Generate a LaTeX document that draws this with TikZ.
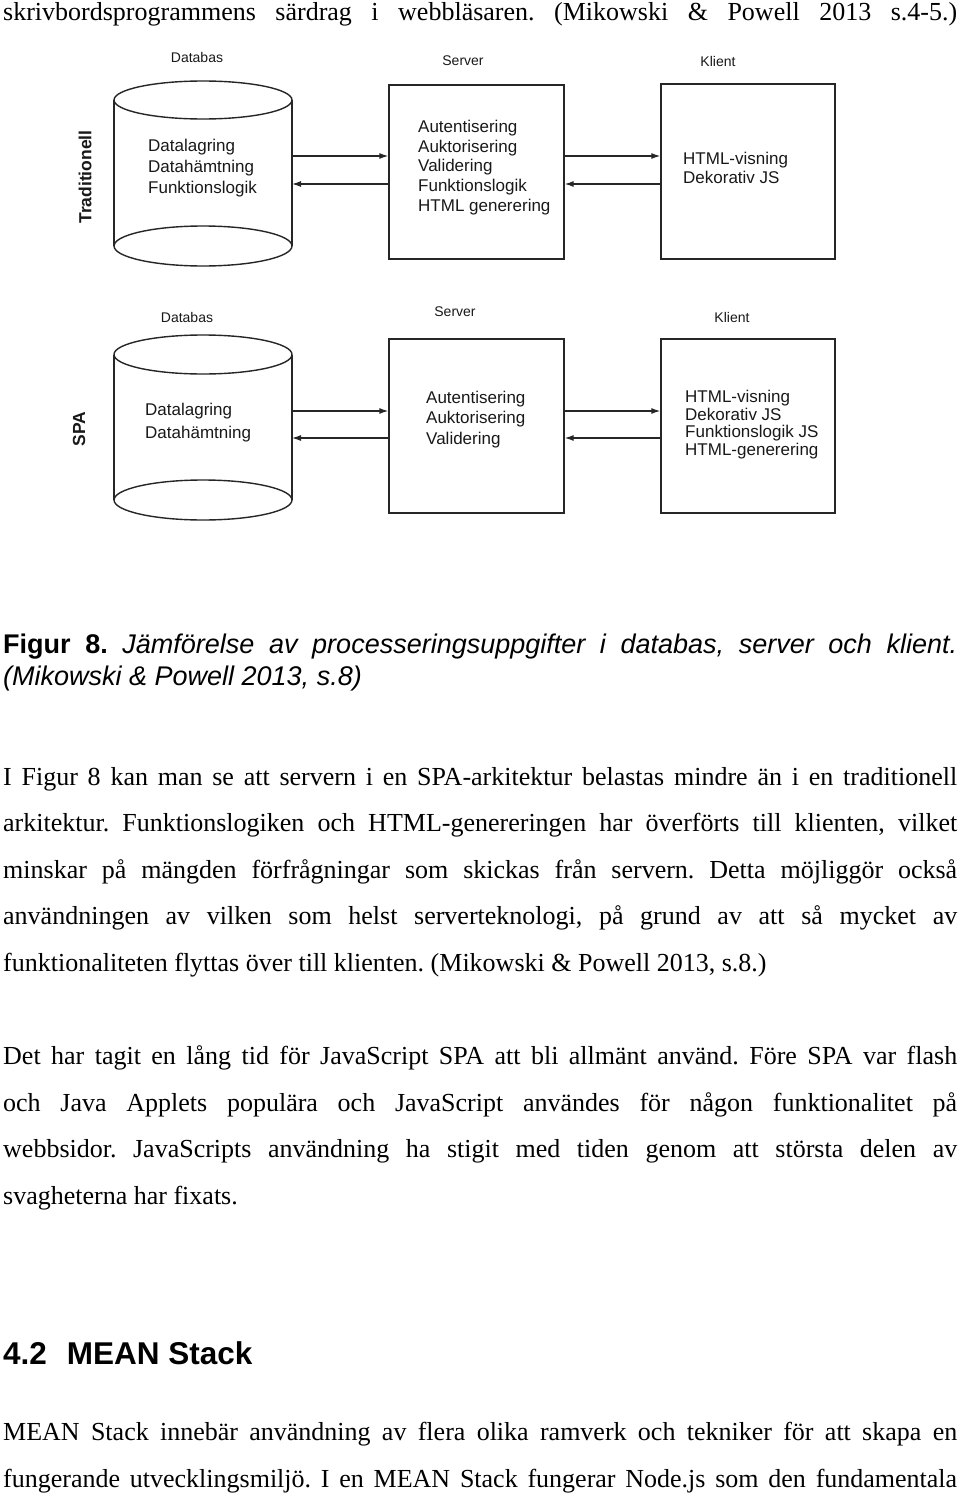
\documentclass[tikz,border=0pt]{standalone}
\usepackage{fontspec}
\setmainfont{Liberation Serif}
\newfontfamily\arialf{Liberation Sans}
\usetikzlibrary{arrows.meta}
\frenchspacing
\newcommand\bodytxt{\fontsize{26}{30}\selectfont}
\newcommand\captxt{\arialf\fontsize{27}{32}\selectfont}
\newcommand\diaglbl{\arialf\fontsize{14}{17}\selectfont}
\newcommand\sidelbl{\arialf\bfseries\fontsize{17.5}{20}\selectfont}
\newcommand\headtxt{\arialf\bfseries\fontsize{31.5}{36}\selectfont}
\begin{document}
\begin{tikzpicture}[x=1pt,y=-1pt,
  boxline/.style={draw=black!85, line width=1.4pt},
  srvbox/.style={boxline, rectangle, inner sep=0pt, minimum width=175pt, minimum height=174pt},
  cylbody/.style={draw=none, rectangle, inner sep=0pt, outer sep=0pt, minimum width=178pt},
  arr/.style={line width=1.2pt, draw=black!85, -{Latex[length=9pt,width=6pt]}},
  txt/.style={anchor=north west, inner sep=0pt, align=left, text=black!90, font=\arialf\fontsize{17}{#1}\selectfont},
  lbl/.style={inner sep=0pt, font=\diaglbl, text=black!90},
  sidetxt/.style={rotate=90, inner sep=0pt, font=\sidelbl, text=black!90},
  bline/.style={anchor=base west, inner sep=0pt, font=\bodytxt},
  cline/.style={anchor=base west, inner sep=0pt, font=\captxt},
]
\useasboundingbox (0,0) rectangle (960,1496);
\fill[white] (0,0) rectangle (960,1496);

% ---------- top line ----------
\node[bline] (l0) at (3,21) {\makebox[954pt][s]{skrivbordsprogrammens särdrag i webbläsaren. (Mikowski \& Powell 2013 s.4-5.)}};

% ---------- Traditionell diagram ----------
\node[sidetxt] (trad) at (85,177) {Traditionell};
\node[lbl] (dbl1) at (197,57) {Databas};
\node[lbl] (srvl1) at (463,61) {Server};
\node[lbl] (clil1) at (718,61) {Klient};

\node[cylbody, minimum height=146pt] (db1) at (203,173) {};
\draw[boxline] (db1.north) ellipse [x radius=89pt, y radius=19pt];
\draw[boxline] (db1.south) ellipse [x radius=89pt, y radius=20pt];
\draw[boxline] (db1.north west) -- (db1.south west) (db1.north east) -- (db1.south east);

\node[srvbox] (srv1) at (476.5,172) {};
\node[srvbox, minimum width=174pt, minimum height=175pt] (cli1) at (748,171.5) {};

\node[txt=21] (dbt1) at (148,138.8) {Datalagring\\Datahämtning\\Funktionslogik};
\node[txt=19.8] (srvt1) at (418,119.8) {Autentisering\\Auktorisering\\Validering\\Funktionslogik\\HTML generering};
\node[txt=19] (clit1) at (683,151.8) {HTML-visning\\Dekorativ JS};

\coordinate (ya1) at (0,156);
\coordinate (yb1) at (0,184);
\draw[arr] (db1.east |- ya1) -- (srv1.west |- ya1);
\draw[arr] (srv1.west |- yb1) -- (db1.east |- yb1);
\draw[arr] (srv1.east |- ya1) -- (cli1.west |- ya1);
\draw[arr] (cli1.west |- yb1) -- (srv1.east |- yb1);

% ---------- SPA diagram ----------
\node[sidetxt] (spa) at (79,429) {SPA};
\node[lbl] (dbl2) at (187,317) {Databas};
\node[lbl] (srvl2) at (455,312) {Server};
\node[lbl] (clil2) at (732,317) {Klient};

\node[cylbody, minimum height=145.5pt] (db2) at (203,427.25) {};
\draw[boxline] (db2.north) ellipse [x radius=89pt, y radius=19.5pt];
\draw[boxline] (db2.south) ellipse [x radius=89pt, y radius=20pt];
\draw[boxline] (db2.north west) -- (db2.south west) (db2.north east) -- (db2.south east);

\node[srvbox] (srv2) at (476.5,426) {};
\node[srvbox, minimum width=174pt] (cli2) at (748,426) {};

\node[txt=23] (dbt2) at (145,402.8) {Datalagring\\Datahämtning};
\node[txt=20.5] (srvt2) at (426,390.8) {Autentisering\\Auktorisering\\Validering};
\node[txt=17.8] (clit2) at (685,389.8) {HTML-visning\\Dekorativ JS\\Funktionslogik JS\\HTML-generering};

\coordinate (ya2) at (0,411);
\coordinate (yb2) at (0,438);
\draw[arr] (db2.east |- ya2) -- (srv2.west |- ya2);
\draw[arr] (srv2.west |- yb2) -- (db2.east |- yb2);
\draw[arr] (srv2.east |- ya2) -- (cli2.west |- ya2);
\draw[arr] (cli2.west |- yb2) -- (srv2.east |- yb2);

% ---------- caption ----------
\node[cline] (c1) at (3,653) {\makebox[954pt][s]{\textbf{Figur 8.} \textit{Jämförelse av processeringsuppgifter i databas, server och klient.}}};
\node[cline] (c2) at (3,685) {\textit{(Mikowski \& Powell 2013, s.8)}};

% ---------- paragraph 1 ----------
\node[bline] (p1a) at (3,785) {\makebox[954pt][s]{I Figur 8 kan man se att servern i en SPA-arkitektur belastas mindre än i en traditionell}};
\node[bline] (p1b) at (3,831) {\makebox[954pt][s]{arkitektur. Funktionslogiken och HTML-genereringen har överförts till klienten, vilket}};
\node[bline] (p1c) at (3,878) {\makebox[954pt][s]{minskar på mängden förfrågningar som skickas från servern. Detta möjliggör också}};
\node[bline] (p1d) at (3,924) {\makebox[954pt][s]{användningen av vilken som helst serverteknologi, på grund av att så mycket av}};
\node[bline] (p1e) at (3,971) {funktionaliteten flyttas över till klienten. (Mikowski \& Powell 2013, s.8.)};

% ---------- paragraph 2 ----------
\node[bline] (p2a) at (3,1064) {\makebox[954pt][s]{Det har tagit en lång tid för JavaScript SPA att bli allmänt använd. Före SPA var flash}};
\node[bline] (p2b) at (3,1111) {\makebox[954pt][s]{och Java Applets populära och JavaScript användes för någon funktionalitet på}};
\node[bline] (p2c) at (3,1157) {\makebox[954pt][s]{webbsidor. JavaScripts användning ha stigit med tiden genom att största delen av}};
\node[bline] (p2d) at (3,1204) {svagheterna har fixats.};

% ---------- heading ----------
\node[anchor=base west, inner sep=0pt, font=\headtxt] (h42) at (3,1364) {4.2\hspace{20pt}MEAN Stack};

% ---------- paragraph 3 ----------
\node[bline] (p3a) at (3,1440) {\makebox[954pt][s]{MEAN Stack innebär användning av flera olika ramverk och tekniker för att skapa en}};
\node[bline] (p3b) at (3,1487) {\makebox[954pt][s]{fungerande utvecklingsmiljö. I en MEAN Stack fungerar Node.js som den fundamentala}};
\end{tikzpicture}
\end{document}
